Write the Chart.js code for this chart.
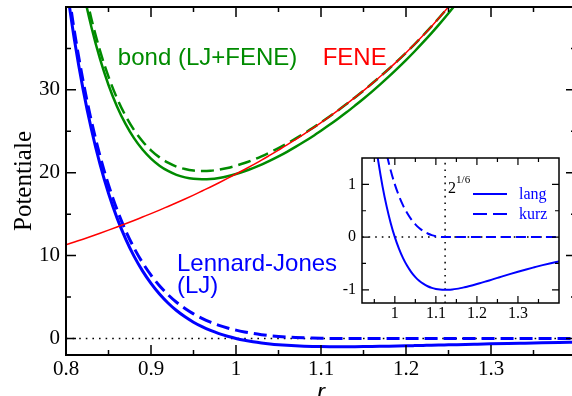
<!DOCTYPE html>
<html>
<head>
<meta charset="utf-8">
<script src="https://cdn.jsdelivr.net/npm/chart.js@4.4.1/dist/chart.umd.min.js"></script>
<style>
  html, body { margin: 0; padding: 0; background: #fff; overflow: hidden; }
  #wrap { position: relative; width: 572px; height: 396px; overflow: hidden; }
  #main-chart { position: absolute; left: 0; top: 0; }
  #inset-chart { position: absolute; left: 330px; top: 150px; }
</style>
</head>
<body>
<div id="wrap">
  <canvas id="main-chart" width="580" height="396"></canvas>
  <canvas id="inset-chart" width="240" height="180"></canvas>
</div>
<script>
// distance r (sigma units)
const rValues = [
  0.80, 0.81, 0.82, 0.83, 0.84, 0.85, 0.86, 0.87, 0.88, 0.89,
  0.90, 0.91, 0.92, 0.93, 0.94, 0.95, 0.96, 0.97, 0.98, 0.99,
  1.00, 1.01, 1.02, 1.03, 1.04, 1.05, 1.06, 1.07, 1.08, 1.09,
  1.10, 1.11, 1.12, 1.13, 1.14, 1.15, 1.16, 1.17, 1.18, 1.19,
  1.20, 1.21, 1.22, 1.23, 1.24, 1.25, 1.26,
  1.28, 1.30, 1.32, 1.34, 1.36, 1.38, 1.40
];

// Lennard-Jones, full ("lang")
const ljValues = [
  42.95, 35.98, 30.12, 25.19, 21.03, 17.52, 14.55, 12.05, 9.93, 8.15,
  6.64, 5.36, 4.28, 3.37, 2.61, 1.96, 1.42, 0.963, 0.582, 0.264,
  0, -0.218, -0.398, -0.544, -0.663, -0.758, -0.832, -0.889, -0.932, -0.963,
  -0.983, -0.995, -1.000, -0.998, -0.992, -0.982, -0.968, -0.951, -0.933, -0.913,
  -0.891, -0.868, -0.845, -0.822, -0.798, -0.774, -0.750,
  -0.703, -0.657, -0.613, -0.572, -0.532, -0.495, -0.461
];

// Lennard-Jones, cut and shifted ("kurz")
const wcaValues = [
  43.95, 36.98, 31.12, 26.19, 22.03, 18.52, 15.55, 13.05, 10.93, 9.15,
  7.64, 6.36, 5.28, 4.37, 3.61, 2.96, 2.42, 1.963, 1.582, 1.264,
  1, 0.782, 0.602, 0.456, 0.337, 0.242, 0.168, 0.111, 0.068, 0.037,
  0.017, 0.005, 0, 0, 0, 0, 0, 0, 0, 0,
  0, 0, 0, 0, 0, 0, 0,
  0, 0, 0, 0, 0, 0, 0
];

// FENE (r = 0.80 .. 1.26)
const feneValues = [
  11.30, 11.64, 11.98, 12.34, 12.70, 13.07, 13.45, 13.84, 14.24, 14.65,
  15.06, 15.49, 15.93, 16.37, 16.83, 17.30, 17.79, 18.28, 18.79, 19.31,
  19.84, 20.39, 20.95, 21.52, 22.12, 22.73, 23.35, 24.00, 24.66, 25.34,
  26.05, 26.77, 27.52, 28.29, 29.09, 29.91, 30.76, 31.64, 32.55, 33.50,
  34.48, 35.50, 36.56, 37.66, 38.82, 40.02, 41.27
];

// bond = LJ + FENE
const bondValues = [
  54.25, 47.62, 42.10, 37.53, 33.73, 30.59, 28.00, 25.89, 24.17, 22.80,
  21.70, 20.85, 20.21, 19.74, 19.44, 19.26, 19.21, 19.24, 19.37, 19.57,
  19.84, 20.17, 20.55, 20.98, 21.46, 21.97, 22.52, 23.11, 23.73, 24.38,
  25.07, 25.78, 26.52, 27.29, 28.10, 28.93, 29.79, 30.69, 31.62, 32.59,
  33.59, 34.63, 35.72, 36.84, 38.02, 39.25, 40.52
];

// bond with the short (cut) LJ
const bondShortValues = [
  55.25, 48.62, 43.10, 38.53, 34.73, 31.59, 29.00, 26.89, 25.17, 23.80,
  22.70, 21.85, 21.21, 20.74, 20.44, 20.26, 20.21, 20.24, 20.37, 20.57,
  20.84, 21.17, 21.55, 21.98, 22.46, 22.97, 23.52, 24.11, 24.73, 25.38,
  26.07, 26.78, 27.52, 28.29, 29.09, 29.91, 30.76, 31.64, 32.55, 33.50,
  34.48, 35.50, 36.56, 37.66, 38.82, 40.02, 41.27
];

const ljMinR = 1.1225; // 2^(1/6)

// tick marks
const mainXTicks = [0.8, 0.9, 1.0, 1.1, 1.2, 1.3];
const mainXMinor = [0.85, 0.95, 1.05, 1.15, 1.25, 1.35];
const mainYTicks = [0, 10, 20, 30];
const mainYMinor = [5, 15, 25, 35];
const insetXTicks = [1.0, 1.1, 1.2, 1.3];
const insetXMinor = [0.95, 1.05, 1.15, 1.25, 1.35];
const insetYTicks = [-1, 0, 1];
const insetYMinor = [-0.5, 0.5];

const BLUE = '#0000ff';
const GREEN = '#008b00';
const RED = '#ff0000';
const SERIF = '"Liberation Serif", "Times New Roman", serif';
const SANS = '"Liberation Sans", Arial, sans-serif';

const toPoints = (xs, ys) => ys.map((y, i) => ({ x: xs[i], y: y }));

function line(data, color, width, dash) {
  return {
    data: data,
    borderColor: color,
    borderWidth: width,
    borderDash: dash || [],
    pointRadius: 0,
    fill: false,
    cubicInterpolationMode: 'monotone'
  };
}

// fixed axis box sizes, no extra label padding
function fixSize(w, h) {
  return s => {
    if (w) s.width = w;
    if (h) s.height = h;
    s.paddingTop = 0; s.paddingBottom = 0;
    s.paddingLeft = 0; s.paddingRight = 0;
  };
}

// box + inward ticks + dotted zero line
const frame = {
  id: 'frame',
  beforeDraw(chart, args, o) {
    if (!o.fillArea) return;
    const a = chart.chartArea, ctx = chart.ctx;
    ctx.save();
    ctx.fillStyle = '#fff';
    ctx.fillRect(a.left, a.top, a.right - a.left, a.bottom - a.top);
    ctx.restore();
  },
  beforeDatasetsDraw(chart, args, o) {
    const { ctx, chartArea: a, scales: { x, y } } = chart;
    ctx.save();
    ctx.strokeStyle = '#000';
    ctx.lineWidth = 1.5;
    ctx.setLineDash([1.6, 5]);
    ctx.beginPath();
    const y0 = y.getPixelForValue(0);
    ctx.moveTo(a.left, y0);
    ctx.lineTo(a.right, y0);
    if (o.vline) {
      const xv = x.getPixelForValue(o.vline);
      ctx.moveTo(xv, a.bottom);
      ctx.lineTo(xv, a.top);
    }
    ctx.stroke();
    ctx.restore();
  },
  afterDatasetsDraw(chart, args, o) {
    const { ctx, chartArea: a, scales: { x, y } } = chart;
    ctx.save();
    ctx.strokeStyle = '#000';
    ctx.lineWidth = o.tickWidth;
    ctx.beginPath();
    const xt = (vals, len) => vals.forEach(v => {
      const px = x.getPixelForValue(v);
      ctx.moveTo(px, a.bottom); ctx.lineTo(px, a.bottom - len);
      ctx.moveTo(px, a.top); ctx.lineTo(px, a.top + len);
    });
    const yt = (vals, len) => vals.forEach(v => {
      const py = y.getPixelForValue(v);
      ctx.moveTo(a.left, py); ctx.lineTo(a.left + len, py);
      ctx.moveTo(a.right, py); ctx.lineTo(a.right - len, py);
    });
    xt(o.xMajor, o.major); xt(o.xMinor, o.minor);
    yt(o.yMajor, o.major); yt(o.yMinor, o.minor);
    ctx.stroke();
    ctx.lineWidth = o.boxWidth;
    ctx.strokeRect(a.left, a.top, a.right - a.left, a.bottom - a.top);
    ctx.restore();
  }
};

// curve names in the main plot
const curveLabels = {
  id: 'curveLabels',
  afterDatasetsDraw(chart) {
    const { ctx, scales: { x, y } } = chart;
    ctx.save();
    ctx.font = '24px ' + SANS;
    ctx.textBaseline = 'alphabetic';
    ctx.textAlign = 'left';
    const put = (text, color, xv, yv) => {
      ctx.fillStyle = color;
      ctx.fillText(text, x.getPixelForValue(xv), y.getPixelForValue(yv));
    };
    put('bond (LJ+FENE)', GREEN, 0.861, 33.0);
    put('FENE', RED, 1.102, 33.0);
    put('Lennard-Jones', BLUE, 0.9306, 8.1);
    put('(LJ)', BLUE, 0.9306, 5.45);
    ctx.restore();
  }
};

// inset legend and 2^(1/6) label
const insetLabels = {
  id: 'insetLabels',
  afterDatasetsDraw(chart) {
    const { ctx, chartArea: a, scales: { x } } = chart;
    ctx.save();
    // 2^(1/6)
    const xv = x.getPixelForValue(ljMinR);
    ctx.fillStyle = '#000';
    ctx.textAlign = 'left';
    ctx.font = '16px ' + SERIF;
    ctx.fillText('2', xv + 3, a.top + 35);
    ctx.font = '11px ' + SERIF;
    ctx.fillText('1/6', xv + 11, a.top + 25);
    // legend
    ctx.strokeStyle = BLUE;
    ctx.lineWidth = 2;
    ctx.beginPath();
    ctx.moveTo(a.left + 111, a.top + 36);
    ctx.lineTo(a.left + 145, a.top + 36);
    ctx.stroke();
    ctx.setLineDash([14, 6]);
    ctx.beginPath();
    ctx.moveTo(a.left + 111, a.top + 56);
    ctx.lineTo(a.left + 145, a.top + 56);
    ctx.stroke();
    ctx.fillStyle = BLUE;
    ctx.font = '16px ' + SERIF;
    ctx.fillText('lang', a.left + 157, a.top + 41);
    ctx.fillText('kurz', a.left + 157, a.top + 61);
    ctx.restore();
  }
};

new Chart(document.getElementById('main-chart'), {
  type: 'line',
  data: {
    datasets: [
      line(toPoints(rValues, feneValues), RED, 1.5),
      line(toPoints(rValues, bondValues), GREEN, 2.5),
      line(toPoints(rValues, bondShortValues), GREEN, 2.5, [13, 6]),
      line(toPoints(rValues, ljValues), BLUE, 3),
      line(toPoints(rValues, wcaValues), BLUE, 3, [13, 6])
    ]
  },
  options: {
    responsive: false,
    animation: false,
    devicePixelRatio: 1,
    layout: { padding: { top: 7, right: 4, left: 0, bottom: 0 } },
    plugins: {
      legend: { display: false },
      tooltip: { enabled: false },
      frame: {
        xMajor: mainXTicks, xMinor: mainXMinor,
        yMajor: mainYTicks, yMinor: mainYMinor,
        major: 10, minor: 5, tickWidth: 1.5, boxWidth: 2
      }
    },
    scales: {
      x: {
        type: 'linear', min: 0.8, max: 1.4,
        afterBuildTicks: s => { s.ticks = mainXTicks.map(v => ({ value: v })); },
        afterFit: fixSize(0, 41),
        grid: { display: false, drawTicks: false },
        border: { display: false },
        ticks: { color: '#000', padding: 2, maxRotation: 0, autoSkip: false,
                 font: { family: SERIF, size: 21 }, callback: v => String(v) },
        title: { display: true, text: 'r', color: '#000',
                 font: { family: SANS, size: 24, style: 'italic' },
                 padding: { top: 0, bottom: -12 } }
      },
      y: {
        type: 'linear', min: -2, max: 40,
        afterBuildTicks: s => { s.ticks = mainYTicks.map(v => ({ value: v })); },
        afterFit: fixSize(66, 0),
        grid: { display: false, drawTicks: false },
        border: { display: false },
        ticks: { color: '#000', padding: 6, autoSkip: false,
                 font: { family: SERIF, size: 21 }, callback: v => String(v) },
        title: { display: true, text: 'Potentiale', color: '#000',
                 font: { family: SERIF, size: 25 },
                 padding: { top: 9, bottom: 0 } }
      }
    }
  },
  plugins: [frame, curveLabels]
});

new Chart(document.getElementById('inset-chart'), {
  type: 'line',
  data: {
    datasets: [
      line(toPoints(rValues, ljValues), BLUE, 2),
      line(toPoints(rValues, wcaValues), BLUE, 2, [10, 5])
    ]
  },
  options: {
    responsive: false,
    animation: false,
    devicePixelRatio: 1,
    layout: { padding: { top: 8, right: 11, left: 0, bottom: 0 } },
    plugins: {
      legend: { display: false },
      tooltip: { enabled: false },
      frame: {
        fillArea: true, vline: ljMinR,
        xMajor: insetXTicks, xMinor: insetXMinor,
        yMajor: insetYTicks, yMinor: insetYMinor,
        major: 7, minor: 4, tickWidth: 1.2, boxWidth: 1.5
      }
    },
    scales: {
      x: {
        type: 'linear', min: 0.92, max: 1.4,
        afterBuildTicks: s => { s.ticks = insetXTicks.map(v => ({ value: v })); },
        afterFit: fixSize(0, 27),
        grid: { display: false, drawTicks: false },
        border: { display: false },
        ticks: { color: '#000', padding: 1, maxRotation: 0, autoSkip: false,
                 font: { family: SERIF, size: 16 }, callback: v => String(v) }
      },
      y: {
        type: 'linear', min: -1.25, max: 1.5,
        afterBuildTicks: s => { s.ticks = insetYTicks.map(v => ({ value: v })); },
        afterFit: fixSize(32, 0),
        grid: { display: false, drawTicks: false },
        border: { display: false },
        ticks: { color: '#000', padding: 6, autoSkip: false,
                 font: { family: SERIF, size: 16 }, callback: v => String(v) }
      }
    }
  },
  plugins: [frame, insetLabels]
});
</script>
</body>
</html>
